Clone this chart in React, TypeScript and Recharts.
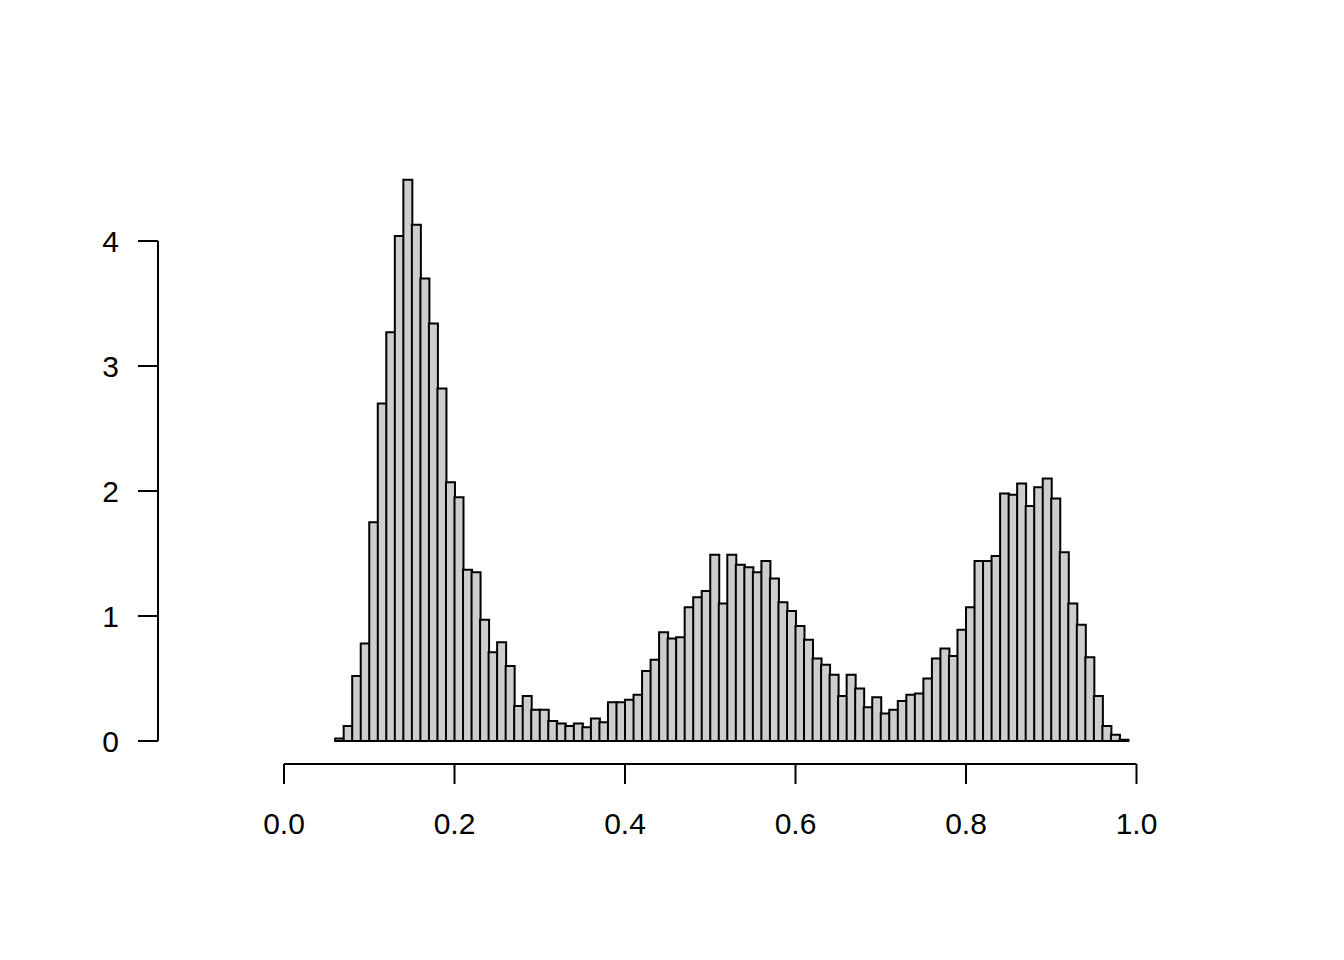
import { Bar, ComposedChart, ReferenceLine, XAxis, YAxis } from "recharts";

// histogram breaks: 0.06 .. 0.99 in steps of 0.01
const BREAK_START = 0.06;
const BIN_WIDTH = 0.01;

// density per bin
const DENSITY = [
  0.02, 0.12, 0.52, 0.78, 1.75, 2.7, 3.27, 4.04, 4.49, 4.13,
  3.7, 3.34, 2.82, 2.07, 1.95, 1.37, 1.35, 0.97, 0.71, 0.79,
  0.6, 0.28, 0.36, 0.25, 0.25, 0.16, 0.14, 0.12, 0.14, 0.11,
  0.18, 0.15, 0.31, 0.31, 0.33, 0.37, 0.56, 0.65, 0.87, 0.82,
  0.83, 1.07, 1.15, 1.2, 1.49, 1.1, 1.49, 1.41, 1.39, 1.35,
  1.44, 1.3, 1.11, 1.04, 0.92, 0.81, 0.66, 0.61, 0.53, 0.36,
  0.53, 0.42, 0.27, 0.35, 0.22, 0.25, 0.32, 0.37, 0.38, 0.5,
  0.66, 0.74, 0.68, 0.89, 1.07, 1.44, 1.44, 1.48, 1.98, 1.97,
  2.06, 1.88, 2.03, 2.1, 1.94, 1.51, 1.1, 0.93, 0.67, 0.36,
  0.12, 0.05, 0.01,
];

const X_TICKS = [0, 0.2, 0.4, 0.6, 0.8, 1];
const Y_TICKS = [0, 1, 2, 3, 4];

// plot region (R-style extended limits)
const X_DOMAIN: [number, number] = [-0.1478, 1.04];
const Y_DOMAIN: [number, number] = [-0.184, 4.67];

const data = DENSITY.map((d, i) => ({
  mid: +(BREAK_START + BIN_WIDTH * (i + 0.5)).toFixed(4),
  density: d,
}));

const FONT = "'Liberation Sans', Arial, Helvetica, sans-serif";
const tickText = { fill: "#000", fontSize: 30, fontFamily: FONT };
const tickLine = { stroke: "#000", strokeWidth: 2 };

export default function App() {
  return (
    <div style={{ position: "absolute", left: 0, top: 0, background: "#fff" }}>
      <ComposedChart
        width={1344}
        height={960}
        data={data}
        margin={{ top: 157.25, right: 173.4, bottom: 136, left: 58 }}
        barCategoryGap={0}
        barGap={0}
      >
        <XAxis
          type="number"
          dataKey="mid"
          domain={X_DOMAIN}
          allowDataOverflow
          ticks={X_TICKS}
          interval={0}
          tickFormatter={(v: number) => v.toFixed(1)}
          axisLine={false}
          stroke="#000"
          tickLine={tickLine}
          tickSize={20}
          tickMargin={29}
          tick={tickText}
          height={60}
        />
        <YAxis
          type="number"
          domain={Y_DOMAIN}
          allowDataOverflow
          ticks={Y_TICKS}
          interval={0}
          axisLine={false}
          stroke="#000"
          tickLine={tickLine}
          tickSize={20}
          tickMargin={19}
          tick={tickText}
          width={100}
        />
        <Bar
          dataKey="density"
          fill="#cdcdcd"
          stroke="#000"
          strokeWidth={2}
          isAnimationActive={false}
        />
        {/* axis lines span first to last tick only, like base R */}
        <ReferenceLine
          segment={[
            { x: X_TICKS[0], y: Y_DOMAIN[0] },
            { x: X_TICKS[X_TICKS.length - 1], y: Y_DOMAIN[0] },
          ]}
          stroke="#000"
          strokeWidth={2}
          ifOverflow="visible"
        />
        <ReferenceLine
          segment={[
            { x: X_DOMAIN[0], y: Y_TICKS[0] },
            { x: X_DOMAIN[0], y: Y_TICKS[Y_TICKS.length - 1] },
          ]}
          stroke="#000"
          strokeWidth={2}
          ifOverflow="visible"
        />
      </ComposedChart>
    </div>
  );
}
